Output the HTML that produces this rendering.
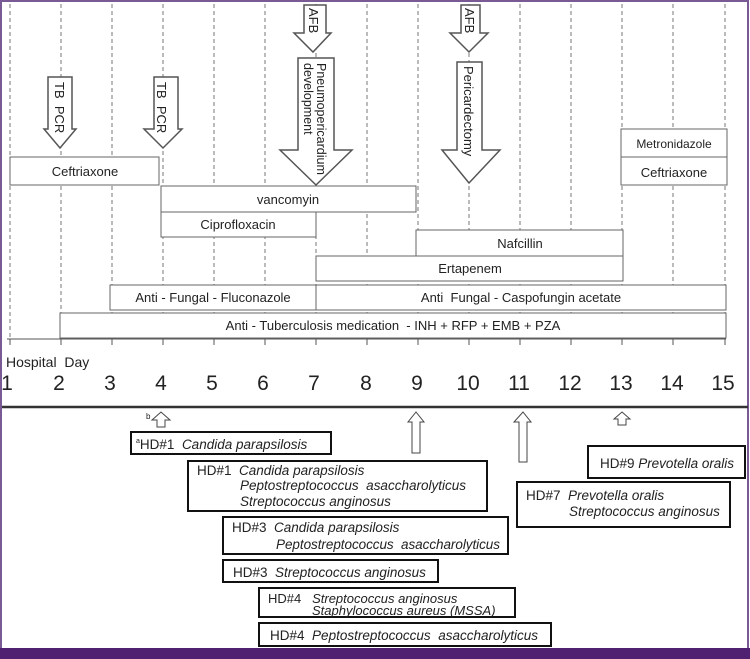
<!DOCTYPE html>
<html><head><meta charset="utf-8"><style>
html,body{margin:0;padding:0;background:#fff}
svg{display:block}
text{font-family:"Liberation Sans",sans-serif;fill:#222}
.i{font-style:italic}
</style></head><body>
<svg width="750" height="659" viewBox="0 0 750 659" xmlns="http://www.w3.org/2000/svg">
<rect x="0" y="0" width="750" height="659" fill="#fff"/>
<rect x="1" y="1" width="747" height="655" fill="none" stroke="#7a5a94" stroke-width="2"/>
<rect x="0" y="648" width="750" height="11" fill="#4f2170"/>
<g stroke="#777" stroke-dasharray="4,3" stroke-width="1">
<line x1="10" y1="4" x2="10" y2="338"/><line x1="61" y1="4" x2="61" y2="338"/><line x1="112" y1="4" x2="112" y2="338"/><line x1="163" y1="4" x2="163" y2="338"/><line x1="214" y1="4" x2="214" y2="338"/><line x1="265" y1="4" x2="265" y2="338"/><line x1="316" y1="4" x2="316" y2="338"/><line x1="367" y1="4" x2="367" y2="338"/><line x1="418" y1="4" x2="418" y2="338"/><line x1="469" y1="4" x2="469" y2="338"/><line x1="520" y1="4" x2="520" y2="338"/><line x1="571" y1="4" x2="571" y2="338"/><line x1="622" y1="4" x2="622" y2="338"/><line x1="673" y1="4" x2="673" y2="338"/><line x1="725" y1="4" x2="725" y2="338"/>
</g>
<g stroke="#666" stroke-width="1" fill="#fff">
<rect x="10" y="157" width="149" height="28"/>
<rect x="161" y="186" width="255" height="26"/>
<rect x="161" y="212" width="155" height="25"/>
<rect x="416" y="230" width="207" height="26"/>
<rect x="316" y="256" width="307" height="25"/>
<rect x="110" y="285" width="206" height="25"/>
<rect x="316" y="285" width="410" height="25"/>
<rect x="60" y="313" width="666" height="25"/>
<rect x="621" y="129" width="106" height="28"/>
<rect x="621" y="157" width="106" height="28"/>
</g>
<g font-size="13" text-anchor="middle">
<text x="85" y="176">Ceftriaxone</text>
<text x="288" y="204">vancomyin</text>
<text x="238" y="229">Ciprofloxacin</text>
<text x="520" y="248">Nafcillin</text>
<text x="470" y="273">Ertapenem</text>
<text x="213" y="302">Anti - Fungal - Fluconazole</text>
<text x="521" y="302">Anti &#160;Fungal - Caspofungin acetate</text>
<text x="393" y="330">Anti - Tuberculosis medication &#160;- INH + RFP + EMB + PZA</text>
<text x="674" y="148" font-size="12">Metronidazole</text>
<text x="674" y="177">Ceftriaxone</text>
</g>
<g stroke="#555" stroke-width="1.5" fill="#fff">
<path d="M48,77 H72 V129 H76 L60,148 L44,129 H48 Z"/>
<path d="M154,77 H178 V129 H182 L163,148 L144,129 H154 Z"/>
<path d="M304,5 H326 V33 H331 L313,52 L294,33 H304 Z"/>
<path d="M298,58 H334 V150 H352 L316,185 L280,150 H298 Z"/>
<path d="M461,5 H480 V33 H488 L469,52 L450,33 H461 Z"/>
<path d="M457,62 H482 V150 H500 L469,183 L442,150 H457 Z"/>
</g>
<g font-size="13">
<text transform="translate(55,82) rotate(90)">TB &#160;PCR</text>
<text transform="translate(157,82) rotate(90)">TB &#160;PCR</text>
<text transform="translate(309,8) rotate(90)">AFB</text>
<text transform="translate(465,8) rotate(90)">AFB</text>
<text transform="translate(317,63) rotate(90)" font-size="12.5">Pneumopericardium</text>
<text transform="translate(304,63) rotate(90)" font-size="12.5">development</text>
<text transform="translate(464,66) rotate(90)">Pericardectomy</text>
</g>
<g stroke="#555" stroke-width="1">
<line x1="7" y1="339" x2="726" y2="339"/>
<line x1="10" y1="339" x2="10" y2="345"/><line x1="61" y1="339" x2="61" y2="345"/><line x1="112" y1="339" x2="112" y2="345"/><line x1="163" y1="339" x2="163" y2="345"/><line x1="214" y1="339" x2="214" y2="345"/><line x1="265" y1="339" x2="265" y2="345"/><line x1="316" y1="339" x2="316" y2="345"/><line x1="367" y1="339" x2="367" y2="345"/><line x1="418" y1="339" x2="418" y2="345"/><line x1="469" y1="339" x2="469" y2="345"/><line x1="520" y1="339" x2="520" y2="345"/><line x1="571" y1="339" x2="571" y2="345"/><line x1="622" y1="339" x2="622" y2="345"/><line x1="673" y1="339" x2="673" y2="345"/><line x1="725" y1="339" x2="725" y2="345"/>
</g>
<text x="6" y="367" font-size="14">Hospital &#160;Day</text>
<g font-size="21" text-anchor="middle">
<text x="7" y="390">1</text><text x="59" y="390">2</text><text x="110" y="390">3</text><text x="161" y="390">4</text><text x="212" y="390">5</text><text x="263" y="390">6</text><text x="314" y="390">7</text><text x="366" y="390">8</text><text x="417" y="390">9</text><text x="468" y="390">10</text><text x="519" y="390">11</text><text x="570" y="390">12</text><text x="621" y="390">13</text><text x="672" y="390">14</text><text x="723" y="390">15</text>
</g>
<line x1="2" y1="407" x2="748" y2="407" stroke="#333" stroke-width="2.5"/>
<g stroke="#444" stroke-width="1" fill="#fff">
<path d="M157,427 V420 H152 L161,412 L170,420 H165 V427 Z"/>
<path d="M618,425 V419 H614 L622,412 L630,419 H626 V425 Z"/>
<path d="M412,453 V422 H408 L416,412 L424,422 H420 V453 Z"/>
<path d="M519,462 V422 H514 L523,412 L531,422 H527 V462 Z"/>
</g>
<text x="146" y="419" font-size="8">b</text>
<g stroke="#111" stroke-width="2" fill="#fff">
<rect x="131" y="432" width="200" height="22"/>
<rect x="188" y="461" width="299" height="50"/>
<rect x="223" y="517" width="285" height="37"/>
<rect x="223" y="560" width="215" height="22"/>
<rect x="259" y="588" width="256" height="29"/>
<rect x="259" y="623" width="292" height="23"/>
<rect x="588" y="446" width="157" height="32"/>
<rect x="517" y="482" width="213" height="45"/>
</g>
<g font-size="13.5">
<text x="136" y="449"><tspan font-size="7" dy="-6">a</tspan><tspan dy="6">HD#1 &#160;</tspan><tspan class="i">Candida parapsilosis</tspan></text>
<text x="197" y="475">HD#1 &#160;<tspan class="i">Candida parapsilosis</tspan></text>
<text x="240" y="490" class="i" textLength="226">Peptostreptococcus &#160;asaccharolyticus</text>
<text x="240" y="506" class="i">Streptococcus anginosus</text>
<text x="232" y="532">HD#3 &#160;<tspan class="i">Candida parapsilosis</tspan></text>
<text x="276" y="549" class="i" textLength="224">Peptostreptococcus &#160;asaccharolyticus</text>
<text x="233" y="577">HD#3 &#160;<tspan class="i">Streptococcus anginosus</tspan></text>
<text x="268" y="603" font-size="13">HD#4 &#160;&#160;<tspan class="i">Streptococcus anginosus</tspan></text>
<text x="312" y="615" font-size="13" class="i">Staphylococcus aureus (MSSA)</text>
<text x="270" y="640" textLength="268">HD#4 &#160;<tspan class="i">Peptostreptococcus &#160;asaccharolyticus</tspan></text>
<text x="600" y="468" textLength="134">HD#9 <tspan class="i">Prevotella oralis</tspan></text>
<text x="526" y="500">HD#7 &#160;<tspan class="i">Prevotella oralis</tspan></text>
<text x="569" y="516" class="i">Streptococcus anginosus</text>
</g>
</svg>
</body></html>
